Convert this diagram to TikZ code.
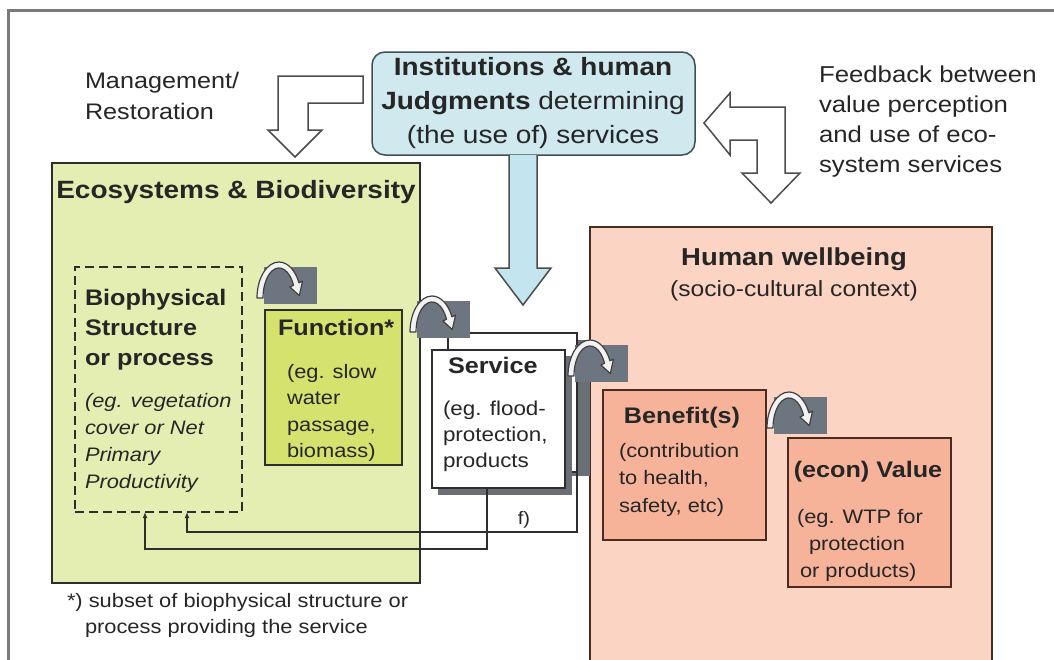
\documentclass[tikz,border=0pt]{standalone}
\usepackage{fontspec}
\setmainfont[FakeStretch=1.12]{Liberation Sans}
\usetikzlibrary{arrows.meta}
\definecolor{framec}{HTML}{7A7A7A}
\definecolor{txtc}{HTML}{262626}
\definecolor{instfill}{HTML}{CFE9EF}
\definecolor{instline}{HTML}{3E5055}
\definecolor{ecofill}{HTML}{E5EEB2}
\definecolor{funcfill}{HTML}{D5E26E}
\definecolor{humanfill}{HTML}{FCD4C3}
\definecolor{benfill}{HTML}{F6B39A}
\definecolor{redline}{HTML}{4A2C22}
\definecolor{boxline}{HTML}{2E2E2E}
\definecolor{iconc}{HTML}{6C7580}
\definecolor{bluefill}{HTML}{C3E5EF}
\definecolor{shadowc}{HTML}{6A6F75}
\newcommand\setfs[2]{\fontsize{#1}{#2}\selectfont}
\newcommand\bendicon[2]{%
  \begin{scope}[shift={(#1,#2)}]
    \fill[iconc] (7,-31) rectangle (60,6);
    \filldraw[fill=white!90!gray, draw=black!75, line width=1.2pt, line join=round]
      (0,0) arc[start angle=180, end angle=335, x radius=22, y radius=36]
      -- (45.5,-16.9) -- (42.3,-2.4) -- (32.9,-11.0) -- (36.5,-12.7)
      arc[start angle=335, end angle=180, x radius=16, y radius=30] -- cycle;
  \end{scope}}
\tikzset{
  every node/.style={inner sep=0pt, outer sep=0pt, text=txtc},
  txt/.style={align=left, anchor=base west},
  ctxt/.style={align=center, anchor=base},
  box/.style={draw=boxline, line width=1.8pt, anchor=north west},
  hollow/.style={fill=white, draw=black!70, line width=1.5pt, line join=miter},
  conn/.style={draw=boxline, line width=1.5pt, -{Latex[length=6pt,width=5pt]}},
}
\begin{document}
\begin{tikzpicture}[x=1pt,y=-1pt]
\useasboundingbox (0,0) rectangle (1054,659);
\clip (0,0) rectangle (1054,659);
\fill[white] (0,0) rectangle (1054,659);
% frame
\draw[framec, line width=3pt] (1060,10) -- (8,10) -- (8,670);

% institutions box (multi-line nodes: base = last line baseline)
\node[box, draw=instline, fill=instfill, rounded corners=13pt, minimum width=323pt, minimum height=103pt, line width=1.5pt] (inst) at (372,52) {};
\node[ctxt, font=\setfs{25}{34}] (insttxt) at (533,143)
  {{\bfseries Institutions \& human}\\{\bfseries Judgments} determining\\(the use of) services};

% management text and hollow arrow
\node[txt, font=\setfs{22.5}{31}] (mgmt) at (85,119) {Management/\\Restoration};
\draw[hollow] (363,76) -- (278,76) -- (278,130) -- (268,130) -- (295,157) -- (322,130)
  -- (308,130) -- (308,103) -- (363,103) -- cycle;

% feedback text and hollow arrow
\node[txt, font=\setfs{23}{30}] (fbtxt) at (819,172)
  {Feedback between\\value perception\\and use of eco-\\system services};
\draw[hollow] (704,123) -- (730,93) -- (730,107) -- (785,107) -- (785,173) -- (800,173)
  -- (771,203) -- (742,173) -- (757,173) -- (757,140) -- (730,140) -- (730,155) -- cycle;

% ecosystems box
\node[box, fill=ecofill, minimum width=368pt, minimum height=420pt] (eco) at (52,163) {};
\node[ctxt, font=\setfs{25}{30}\bfseries] (ecotxt) at (236,198) {Ecosystems \& Biodiversity};

% human wellbeing box
\node[box, draw=redline, fill=humanfill, minimum width=402pt, minimum height=460pt] (human) at (590,227) {};
\node[ctxt, font=\setfs{24.5}{30}\bfseries] (humantxt) at (794,265) {Human wellbeing};
\node[ctxt, font=\setfs{22}{28}] (humansub) at (794,296) {(socio-cultural context)};

% blue arrow
\filldraw[fill=bluefill, draw=black!70, line width=1.5pt] (509,155) -- (509,268) -- (495,268)
  -- (523,305) -- (551,268) -- (537,268) -- (537,155);

% biophysical dashed box
\node[box, dashed, dash pattern=on 9pt off 5pt, minimum width=167pt, minimum height=245pt] (bio) at (75,267) {};
\node[txt, font=\setfs{22.5}{30}\bfseries] (biotxt) at (85,365) {Biophysical\\Structure\\or process};
\node[txt, font=\setfs{19.5}{27}\itshape] (bioeg) at (85,488)
  {(eg. vegetation\\cover or Net\\Primary\\Productivity};

% function box
\node[box, fill=funcfill, minimum width=137pt, minimum height=155pt] (func) at (265,310) {};
\node[txt, font=\setfs{22.5}{28}\bfseries] (functxt) at (278,335) {Function*};
\node[txt, font=\setfs{19.5}{26.5}] (funceg) at (287,457.5) {(eg. slow\\water\\passage,\\biomass)};

% service boxes
\fill[shadowc] (571,340) rectangle (590,476);
\node[box, fill=white, line width=1.5pt, minimum width=129pt, minimum height=139pt] (svcback) at (448,333) {};
\fill[shadowc] (438,356) rectangle (572,495);
\node[box, fill=white, line width=1.5pt, minimum width=133pt, minimum height=138pt] (svc) at (432,350) {};
\node[txt, font=\setfs{22.5}{28}\bfseries] (svctxt) at (448,373) {Service};
\node[txt, font=\setfs{20}{26}] (svceg) at (443,467) {(eg. flood-\\protection,\\products};

% benefit and value boxes
\node[box, draw=redline, fill=benfill, minimum width=163pt, minimum height=150pt] (ben) at (603,390) {};
\node[ctxt, font=\setfs{22.5}{28}\bfseries] (bentxt) at (682,423) {Benefit(s)};
\node[txt, font=\setfs{19.5}{27.5}] (beneg) at (619,512) {(contribution\\to health,\\safety, etc)};
\node[box, draw=redline, fill=benfill, minimum width=163pt, minimum height=149pt] (val) at (788,438) {};
\node[ctxt, font=\setfs{22.5}{28}\bfseries] (valtxt) at (868,477) {(econ) Value};
\node[txt, font=\setfs{19.5}{27}] (valeg) at (797,577) {(eg. WTP for\\\hspace*{12pt}protection\\\hspace*{3pt}or products)};

% curved arrow icons
\bendicon{257}{298}
\bendicon{410}{332}
\bendicon{568}{376}
\bendicon{767}{428}

% feedback connectors
\draw[conn] ([xshift=-11.5pt]svc.south) -- ++(0,61) -| ([xshift=-13.5pt]bio.south);
\draw[conn] (svcback.south east) -- ++(0,60) -| ([xshift=28.5pt]bio.south);
\node[font=\setfs{18}{20}] (flabel) at (524,520) {f)};

% footnote
\node[txt, font=\setfs{19.5}{26}] (foot) at (67,633)
  {*) subset of biophysical structure or\\\hspace*{18pt}process providing the service};
\end{tikzpicture}
\end{document}
